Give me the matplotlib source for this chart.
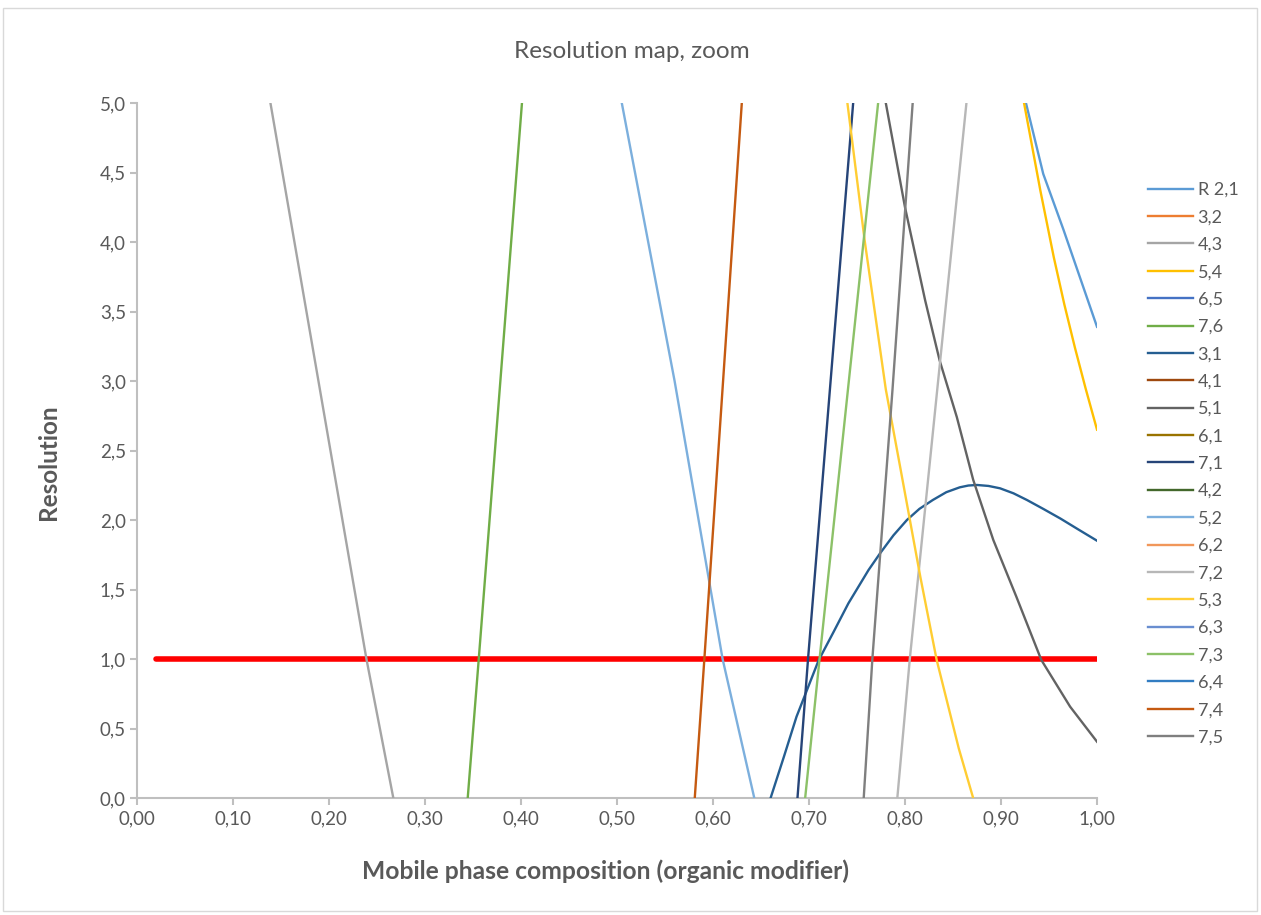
import matplotlib
matplotlib.use("Agg")
import matplotlib.pyplot as plt
from matplotlib.patches import Rectangle
from matplotlib.ticker import FuncFormatter

plt.rcParams['font.family'] = ['Lato', 'DejaVu Sans']

# ---- data ----
labels = ["R 2,1", "3,2", "4,3", "5,4", "6,5", "7,6", "3,1", "4,1", "5,1", "6,1",
          "7,1", "4,2", "5,2", "6,2", "7,2", "5,3", "6,3", "7,3", "6,4", "7,4", "7,5"]
colors = ["#5B9BD5", "#ED7D31", "#A5A5A5", "#FFC000", "#4472C4", "#70AD47",
          "#255E91", "#9E480E", "#636363", "#997300", "#264478", "#43682B",
          "#7CAFDD", "#F1975A", "#B7B7B7", "#FFCD33", "#698ED0", "#8CC168",
          "#327DC2", "#C55A11", "#7F7F7F"]

x_21 = [0.926, 0.944, 0.965, 0.982, 1.000]
y_21 = [5.00, 4.49, 4.09, 3.75, 3.39]
x_32, y_32 = [], []
x_43 = [0.139, 0.189, 0.239, 0.267]
y_43 = [5.00, 3.00, 1.00, 0.00]
x_54 = [0.924, 0.941, 0.955, 0.966, 0.977, 0.988, 1.000]
y_54 = [5.00, 4.37, 3.89, 3.55, 3.24, 2.95, 2.65]
x_65, y_65 = [], []
x_76 = [0.3445, 0.356, 0.401]
y_76 = [0.00, 1.00, 5.00]
x_31 = [0.660, 0.674, 0.687, 0.710, 0.726, 0.741, 0.762, 0.774, 0.788, 0.802,
        0.815, 0.829, 0.843, 0.857, 0.866, 0.875, 0.887, 0.899, 0.913, 0.927,
        0.944, 0.962, 0.981, 1.000]
y_31 = [0.00, 0.30, 0.585, 0.990, 1.20, 1.40, 1.64, 1.76, 1.89, 2.00,
        2.08, 2.144, 2.20, 2.235, 2.248, 2.252, 2.245, 2.228, 2.192, 2.144,
        2.08, 2.01, 1.93, 1.851]
x_41, y_41 = [], []
x_51 = [0.780, 0.800, 0.821, 0.836, 0.854, 0.871, 0.892, 0.916, 0.942, 0.972, 1.000]
y_51 = [5.00, 4.25, 3.58, 3.15, 2.74, 2.29, 1.856, 1.448, 0.993, 0.657, 0.405]
x_61, y_61 = [], []
x_71 = [0.688, 0.699, 0.746]
y_71 = [0.00, 1.00, 5.00]
x_42, y_42 = [], []
x_52 = [0.505, 0.560, 0.610, 0.643]
y_52 = [5.00, 3.00, 1.00, 0.00]
x_62, y_62 = [], []
x_72 = [0.792, 0.805, 0.864]
y_72 = [0.00, 1.00, 5.00]
x_53 = [0.740, 0.758, 0.780, 0.795, 0.816, 0.833, 0.856, 0.871]
y_53 = [5.00, 4.01, 2.94, 2.38, 1.59, 0.993, 0.357, 0.00]
x_63, y_63 = [], []
x_73 = [0.696, 0.711, 0.772]
y_73 = [0.00, 1.00, 5.00]
x_64, y_64 = [], []
x_74 = [0.581, 0.591, 0.630]
y_74 = [0.00, 1.00, 5.00]
x_75 = [0.757, 0.766, 0.787, 0.808]
y_75 = [0.00, 1.00, 2.94, 5.00]

x_limit = [0.02, 1.00]
y_limit = [1.0, 1.0]

series_x = [x_21, x_32, x_43, x_54, x_65, x_76, x_31, x_41, x_51, x_61, x_71,
            x_42, x_52, x_62, x_72, x_53, x_63, x_73, x_64, x_74, x_75]
series_y = [y_21, y_32, y_43, y_54, y_65, y_76, y_31, y_41, y_51, y_61, y_71,
            y_42, y_52, y_62, y_72, y_53, y_63, y_73, y_64, y_74, y_75]

# ---- figure ----
W, H = 1261, 915
fig = plt.figure(figsize=(W / 100, H / 100), dpi=100)
fig.patches.append(Rectangle((3 / W, 1 - 911 / H), 1254 / W, 903 / H,
                             transform=fig.transFigure, fill=False,
                             edgecolor="#D9D9D9", linewidth=1.0))

ax = fig.add_axes([137 / W, 1 - 798 / H, 960 / W, 695 / H])

ax.plot(x_limit, y_limit, color="#FF0000", linewidth=4.0,
        solid_capstyle="round", zorder=3)
for xs, ys, lab, col in zip(series_x, series_y, labels, colors):
    ax.plot(xs, ys, color=col, linewidth=1.7, label=lab, zorder=4,
            solid_joinstyle="round")

ax.set_xlim(0, 1)
ax.set_ylim(0, 5)
ax.set_xticks([i / 10 for i in range(11)])
ax.set_yticks([i / 2 for i in range(11)])
ax.xaxis.set_major_formatter(FuncFormatter(lambda v, p: f"{v:.2f}".replace(".", ",")))
ax.yaxis.set_major_formatter(FuncFormatter(lambda v, p: f"{v:.1f}".replace(".", ",")))

for s in ["top", "right"]:
    ax.spines[s].set_visible(False)
for s in ["left", "bottom"]:
    ax.spines[s].set_color("#BFBFBF")
    ax.spines[s].set_linewidth(1.5)
ax.tick_params(axis="both", colors="#BFBFBF", labelcolor="#595959",
               labelsize=13.5, length=5, width=1.5, direction="out")
ax.tick_params(axis="x", pad=4)
ax.tick_params(axis="y", pad=3)

fig.text(632 / W, 1 - 52 / H, "Resolution map, zoom", ha="center", va="center",
         fontsize=17.5, color="#595959")
fig.text(606 / W, 1 - 871 / H, "Mobile phase composition (organic modifier)",
         ha="center", va="center", fontsize=17.7, fontweight="bold", color="#595959")
fig.text(49 / W, 1 - 462 / H, "Resolution", ha="center", va="center",
         rotation=90, fontsize=17.5, fontweight="bold", color="#595959")

leg = fig.legend(loc="upper left", bbox_to_anchor=(1148 / W, 1 - 182 / H),
                 frameon=False, fontsize=13, labelcolor="#595959",
                 handlelength=2.5, handletextpad=0.25, labelspacing=0.63,
                 borderaxespad=0, borderpad=0)

fig.savefig("out.png", dpi=100)
